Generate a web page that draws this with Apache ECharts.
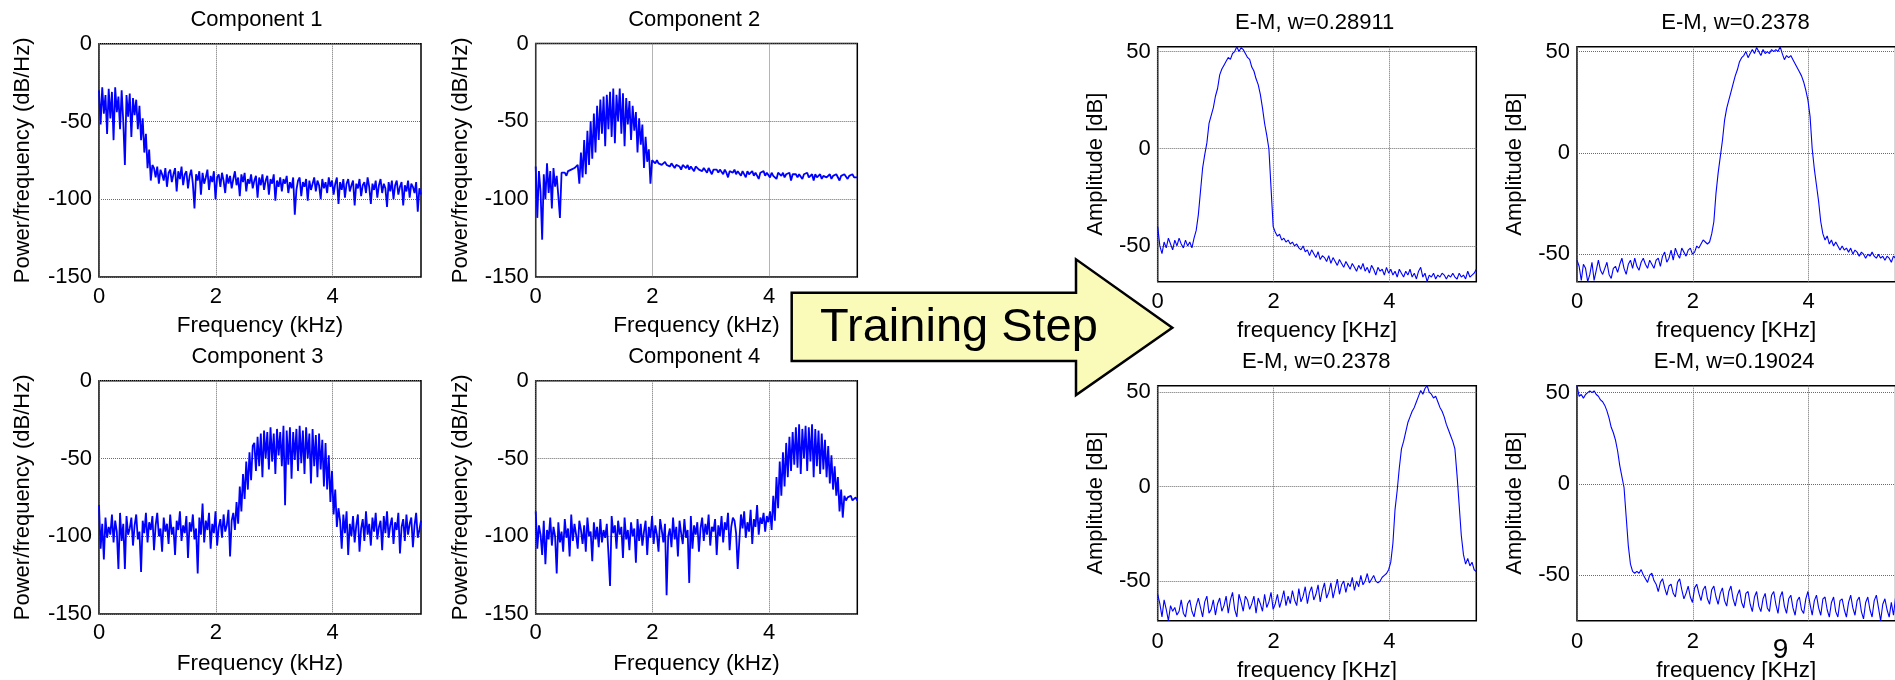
<!DOCTYPE html>
<html><head><meta charset="utf-8">
<script src="https://cdn.jsdelivr.net/npm/echarts@6/dist/echarts.min.js"></script>
<style>html,body{margin:0;padding:0;background:#fff;overflow:hidden}#c{width:1895px;height:680px}</style>
</head><body><div id="c"></div>
<script>
// ---------- data ----------
const freqTicks = [0, 2, 4];
const psdTicks = [-150, -100, -50, 0];
const ampTicks = [-50, 0, 50];
const psdMaxKHz = 5.5125;
const ampMaxKHz = 5.5;

const componentTitles = ['Component 1', 'Component 2', 'Component 3', 'Component 4'];
const emTitles = ['E-M, w=0.28911', 'E-M, w=0.2378', 'E-M, w=0.2378', 'E-M, w=0.19024'];
const psdName = 'Power/frequency (dB/Hz)';
const psdFreqName = 'Frequency (kHz)';
const ampName = 'Amplitude [dB]';
const ampFreqName = 'frequency [KHz]';
const arrowText = 'Training Step';
const pageNumber = '9';

const component1 = [-30,-52,-28,-45,-33,-58,-29,-48,-31,-62,-28,-44,-34,-55,-30,-50,-78,-33,-47,-32,-60,-35,-46,
 -36,-55,-40,-62,-48,-70,-58,-80,-68,-88,-78,
 -80,-86,-79,-90,-81,-84,-88,-80,-92,-83,
 -81,-89,-84,-80,-95,-82,-87,-79,-91,-84,
 -82,-93,-85,-81,-90,-106,-84,-88,-82,-97,
 -83,-90,-86,-81,-94,-85,-89,-82,-100,-86,
 -84,-92,-83,-88,-96,-84,-90,-85,-93,-87,
 -82,-91,-86,-98,-84,-89,-83,-95,-87,-90,
 -84,-93,-88,-85,-99,-86,-91,-84,-94,-88,
 -85,-97,-87,-90,-84,-101,-88,-92,-86,-95,
 -87,-90,-85,-96,-89,-93,-86,-110,-94,-88,
 -86,-98,-89,-92,-87,-101,-88,-94,-90,-86,
 -95,-88,-91,-100,-87,-93,-89,-96,-86,-92,
 -88,-97,-90,-86,-103,-89,-94,-87,-99,-90,
 -87,-95,-91,-88,-104,-90,-93,-87,-98,-91,
 -89,-96,-86,-92,-103,-90,-94,-88,-99,-91,
 -87,-96,-90,-93,-105,-89,-95,-88,-100,-91,
 -88,-97,-92,-89,-104,-91,-95,-88,-99,-90,
 -92,-96,-89,-108,-93,-97];

const component2 = [-79,-112,-82,-95,-126,-84,-100,-77,-96,-82,-106,-80,-92,-85,-98,-112,-83,
 -84,-83,-85,-82,-83,-81,-82,-80,-79,
 -78,-90,-70,-86,-62,-84,-56,-78,-50,-74,-45,-70,-40,-62,-36,-58,-34,-66,-33,-55,-31,-60,
 -29,-64,-33,-50,-29,-58,-32,-66,-35,-52,-37,-62,-40,-56,-44,-70,-48,-65,-52,-80,-60,-76,-68,-90,-75,
 -76,-77,-75,-77,-76,-78,-77,-76,-78,-77,
 -79,-77,-78,-80,-78,-77,-79,-81,-78,-79,
 -80,-78,-81,-79,-80,-82,-79,-80,-81,-80,
 -82,-80,-81,-83,-80,-81,-84,-81,-82,-81,
 -83,-81,-82,-84,-81,-83,-86,-82,-82,-83,
 -81,-84,-82,-83,-85,-82,-83,-86,-82,-84,
 -83,-82,-85,-83,-84,-87,-83,-84,-82,-85,
 -83,-84,-86,-83,-85,-84,-87,-83,-84,-85,
 -83,-86,-84,-85,-83,-88,-84,-85,-84,-86,
 -84,-85,-87,-84,-85,-83,-86,-85,-84,-88,
 -84,-86,-85,-84,-87,-85,-84,-86,-85,-84,
 -87,-85,-86,-84,-85,-88,-85,-86,-84,-85,
 -87,-85,-86,-84,-86,-85,-86];

const component3 = [-80,-108,-92,-115,-88,-101,-94,-99,-86,-104,
 -90,-97,-121,-85,-103,-92,-121,-87,-99,-95,
 -88,-106,-93,-86,-102,-97,-123,-90,-98,-85,
 -104,-91,-96,-87,-109,-93,-85,-100,-95,-110,
 -88,-97,-92,-105,-86,-99,-94,-112,-90,-96,
 -84,-103,-93,-98,-87,-114,-91,-97,-86,-102,
 -95,-124,-88,-99,-79,-104,-90,-96,-85,-108,
 -92,-98,-84,-106,-94,-89,-101,-86,-97,-93,
 -83,-113,-90,
 -85,-96,-78,-92,-68,-84,-60,-76,-52,-70,-46,-64,-42,
 -40,-58,-36,-55,-34,-62,-32,-50,-33,-57,
 -30,-52,-34,-60,-31,-48,-33,-55,-29,-80,
 -32,-54,-30,-63,-33,-51,-31,-58,-29,-53,
 -32,-60,-30,-50,-34,-66,-31,-55,-35,-62,
 -34,-57,-38,-68,-40,
 -70,-48,-78,-58,-86,-70,-94,-82,
 -90,-108,-86,-98,-84,-112,-92,-100,-87,-104,
 -93,-86,-110,-95,-89,-103,-84,-99,-92,-106,
 -88,-97,-85,-102,-94,-90,-109,-87,-98,-84,
 -101,-93,-88,-105,-91,-96,-85,-111,-94,-89,
 -103,-86,-99,-92,-88,-107,-93,-85,-101,-96,
 -90];

const component4 = [-84,-108,-93,-99,-112,-90,-118,-96,-102,-88,
 -106,-94,-100,-124,-91,-104,-97,-110,-89,-101,
 -95,-113,-86,-103,-92,-99,-108,-90,-96,-105,
 -93,-110,-88,-100,-97,-116,-91,-102,-94,-107,
 -89,-104,-96,-101,-92,-111,-132,-87,-98,-93,
 -108,-90,-99,-94,-114,-88,-102,-96,-109,-91,
 -100,-95,-117,-89,-103,-92,-106,-97,-90,-112,
 -94,-101,-87,-105,-93,-99,-110,-89,-96,-104,
 -92,-138,-100,-95,-107,-88,-102,-94,-113,-90,
 -98,-105,-89,-101,-96,-130,-87,-108,-93,-99,
 -91,-110,-95,-88,-103,-92,-99,-86,-106,-94,
 -97,-89,-112,-93,-100,-87,-104,-91,-96,-85,
 -109,-94,-88,-90,-98,-121,-103,-86,-95,-84,
 -101,-91,-97,-83,-105,-89,-94,-80,-99,-88,
 -92,-85,-97,-87,-91,
 -84,-96,-74,-90,-62,-82,-52,-74,-46,-68,-40,-62,-36,-58,-33,-54,
 -30,-56,-28,-60,-31,-50,-29,-58,-30,-52,-28,-62,-31,-55,-32,-60,-34,-57,
 -38,-62,-42,-66,-48,-70,-55,-74,-62,-84,-70,-88,
 -74,-77,-75,-76,-74,-77,-76,-75,-77];

const em1 = [-40,-50,-54,-48,-51,-46,-49,-52,-47,-50,
 -46,-49,-51,-47,-50,-48,-51,-46,-42,-34,
 -22,-10,-3,3,13,17,21,27,31,38,
 41,43,45,47,46,49,50,52.5,50,52,
 51,49,47,46,42,40,36,33,28,21,
 13,7,0,-20,-40,-43,-45,-44,-47,-46,
 -48,-47,-49,-48,-50,-49,-51,-52,-50,-53,
 -52,-55,-52,-54,-56,-53,-57,-55,-56,-58,
 -55,-59,-56,-58,-60,-57,-59,-61,-58,-60,
 -62,-59,-61,-63,-60,-62,-59,-63,-61,-64,
 -60,-62,-65,-61,-63,-62,-65,-61,-64,-62,
 -65,-63,-66,-62,-64,-66,-63,-65,-62,-66,
 -64,-67,-63,-61,-66,-64,-68.4,-65,-66,-64,
 -67,-65,-66,-64,-65,-67,-65,-66,-64,-66,
 -67,-64,-66,-65,-67,-63,-66,-65,-64,-62];

const em2 = [-53,-56,-63,-55,-57,-63.6,-60,-54,-63,-58,
 -53,-58,-60,-57,-54,-60,-62,-57,-56,-59,
 -55,-52,-57,-60,-55,-53,-57,-52,-56,-58,
 -54,-52,-55,-57,-53,-55,-57,-53,-52,-56,
 -51,-49,-54,-52,-48,-53,-47,-50,-52,-47,
 -49,-51,-48,-47,-50,-49,-46,-47,-45,-43,
 -44,-45,-44,-40,-34,-20,-10,-2,6,16,
 22,26,30,34,38,41,45,47,48,50,
 47,49,51,49,52,50,48,51,49,50,
 49,51,50,51,50,52.4,49,46,48,47,
 48,46,44,42,40,38,35,31,26,18,
 2,-8,-16,-24,-34,-40,-43,-41,-45,-43,
 -46,-44,-46,-48,-46,-48,-47,-49,-47,-50,
 -48,-49,-51,-49,-50,-52,-50,-51,-49,-51,
 -52,-50,-52,-51,-53,-51,-52,-54,-51,-52];

const em3 = [-57,-62,-69,-60,-65,-71,-63,-66,-64,-68,
 -66,-60,-67,-69,-62,-60,-66,-69,-63,-59,
 -64,-69,-61,-58,-67,-65,-60,-68,-62,-59,
 -66,-63,-58,-67,-60,-56,-65,-69,-57,-61,
 -66,-58,-60,-65,-62,-58,-67,-59,-62,-66,
 -57,-64,-61,-56,-65,-62,-57,-64,-60,-55,
 -63,-58,-62,-55,-60,-63,-54,-61,-58,-53,
 -62,-56,-53,-60,-57,-52,-61,-55,-51,-59,
 -56,-51,-59,-54,-49,-57,-52,-50,-56,-51,
 -53,-48,-55,-50,-53,-47,-52,-50,-46,-51,
 -49,-47,-50,-51,-50,-48,-47,-46,-44,-40,
 -30,-12,-2,10,20,24,29,34,37,40,
 42,45,48,51,49,52,53.5,50,49,47,
 48,45,42,40,37,33,30,27,24,20,
 6,-10,-26,-36,-41,-38,-42,-40,-44,-45];

const em4 = [53.8,48,49,47,49,50,51,50,51,49,
 48,46,45,43,40,36,31,28,24,18,
 10,4,-2,-18,-34,-44,-48,-49,-48,-49,
 -47,-50,-52,-54,-50,-49,-53,-55,-59,-54,
 -52,-57,-61,-56,-55,-60,-62,-54,-52,-58,
 -63,-60,-56,-62,-65,-57,-55,-60,-64,-58,
 -56,-63,-66,-58,-56,-62,-66,-60,-57,-64,
 -67,-59,-56,-63,-67,-61,-58,-65,-68,-60,
 -59,-66,-70,-62,-59,-67,-70,-63,-60,-68,
 -70,-61,-59,-66,-71,-62,-59,-67,-71,-63,
 -61,-68,-72,-64,-62,-69,-71,-63,-59,-66,
 -72,-64,-61,-68,-72,-63,-62,-69,-73,-65,
 -62,-70,-73,-64,-63,-69,-73,-65,-61,-68,
 -72,-64,-62,-70,-74,-65,-62,-69,-73,-64,
 -61,-68,-75,-66,-63,-69,-73,-65,-72,-62];

// ---------- layout ----------
const FONT = '"Liberation Sans", Arial, Helvetica, sans-serif';
const panels = [
  {values: component1, title: componentTitles[0], kind: 'psd', yRange: [-150, 0], left: 99, top: 43.7, width: 322, height: 233.3, tx: 256.5, ty: 20, xMargin: 8.5, xGap: 37, yGap: 65},
  {values: component2, title: componentTitles[1], kind: 'psd', yRange: [-150, 0], left: 535.7, top: 43.5, width: 321.6, height: 233.5, tx: 694.2, ty: 20, xMargin: 8.5, xGap: 37, yGap: 64},
  {values: component3, title: componentTitles[2], kind: 'psd', yRange: [-150, 0], left: 99, top: 380.7, width: 322, height: 233.3, tx: 257.5, ty: 356.7, xMargin: 8, xGap: 38, yGap: 65},
  {values: component4, title: componentTitles[3], kind: 'psd', yRange: [-150, 0], left: 535.7, top: 380.7, width: 321.6, height: 233.3, tx: 694.2, ty: 356.7, xMargin: 8, xGap: 38, yGap: 64},
  {values: em1, title: emTitles[0], kind: 'amp', yRange: [-68.4, 52.5], left: 1157.7, top: 46.7, width: 318.6, height: 235, tx: 1314.7, ty: 22.7, xMargin: 9, xGap: 37.3, yGap: 51},
  {values: em2, title: emTitles[1], kind: 'amp', yRange: [-63.6, 52.4], left: 1577, top: 46.7, width: 318.6, height: 235, tx: 1735.5, ty: 22.7, xMargin: 9, xGap: 37.3, yGap: 51},
  {values: em3, title: emTitles[2], kind: 'amp', yRange: [-71, 53.5], left: 1157.7, top: 385.7, width: 318.6, height: 235, tx: 1316.2, ty: 361.7, xMargin: 10, xGap: 38.3, yGap: 51},
  {values: em4, title: emTitles[3], kind: 'amp', yRange: [-75, 53.8], left: 1577, top: 385.7, width: 318.6, height: 235, tx: 1734.2, ty: 361.7, xMargin: 10, xGap: 38.3, yGap: 51}
];

const grids = [], xAxes = [], yAxes = [], series = [], titles = [];
const gridLine = {show: true, lineStyle: {type: [1, 1], color: '#6a6a6a', width: 1}};
panels.forEach((p, k) => {
  const isPsd = p.kind === 'psd';
  const fmax = isPsd ? psdMaxKHz : ampMaxKHz;
  const step = fmax / (p.values.length - 1);
  grids.push({left: p.left, top: p.top, width: p.width, height: p.height, show: true,
    borderColor: '#000', borderWidth: 1.5, backgroundColor: 'transparent',
    containLabel: false, outerBoundsMode: 'none'});
  xAxes.push({gridIndex: k, type: 'value', min: 0, max: fmax,
    axisLine: {show: false}, axisTick: {show: false, customValues: freqTicks},
    axisLabel: {customValues: freqTicks, fontSize: 22, color: '#000', fontFamily: FONT, margin: p.xMargin},
    splitLine: gridLine,
    name: isPsd ? psdFreqName : ampFreqName, nameLocation: 'middle', nameGap: p.xGap,
    nameTextStyle: {fontSize: 22.5, color: '#000', fontFamily: FONT}});
  const yt = isPsd ? psdTicks : ampTicks;
  yAxes.push({gridIndex: k, type: 'value', min: p.yRange[0], max: p.yRange[1],
    axisLine: {show: false}, axisTick: {show: false, customValues: yt},
    axisLabel: {customValues: yt, fontSize: 22, color: '#000', fontFamily: FONT, margin: 7},
    splitLine: gridLine,
    name: isPsd ? psdName : ampName, nameLocation: 'middle', nameGap: p.yGap,
    nameTextStyle: {fontSize: 22, color: '#000', fontFamily: FONT}});
  series.push({type: 'line', xAxisIndex: k, yAxisIndex: k,
    data: p.values.map((v, i) => [i * step, v]),
    showSymbol: false, symbol: 'none', silent: true, clip: true,
    lineStyle: {color: '#0000ff', width: isPsd ? 1.8 : 1.1}});
  titles.push({text: p.title, left: p.tx, top: p.ty - 11, textAlign: 'center', padding: 0,
    textStyle: {fontSize: 22, fontWeight: 'normal', color: '#000', fontFamily: FONT}});
});

const chart = echarts.init(document.getElementById('c'), null, {renderer: 'canvas'});
chart.setOption({
  animation: false,
  backgroundColor: '#fff',
  textStyle: {fontFamily: FONT},
  title: titles,
  grid: grids,
  xAxis: xAxes,
  yAxis: yAxes,
  series: series,
  graphic: [
    {type: 'polygon', z: 100,
      shape: {points: [[791.7, 292.7], [1076, 292.7], [1076, 259.3], [1172.3, 327.7], [1076, 395], [1076, 361], [791.7, 361]]},
      style: {fill: '#fafab9', stroke: '#000', lineWidth: 2.5}},
    {type: 'text', z: 101, x: 959, y: 328,
      style: {text: arrowText, font: '47px ' + FONT, fill: '#000', align: 'center', verticalAlign: 'middle', textAlign: 'center', textVerticalAlign: 'middle'}},
    {type: 'text', z: 101, x: 1780.5, y: 650,
      style: {text: pageNumber, font: '28px ' + FONT, fill: '#000', align: 'center', verticalAlign: 'middle', textAlign: 'center', textVerticalAlign: 'middle'}}
  ]
});
</script>
</body></html>
